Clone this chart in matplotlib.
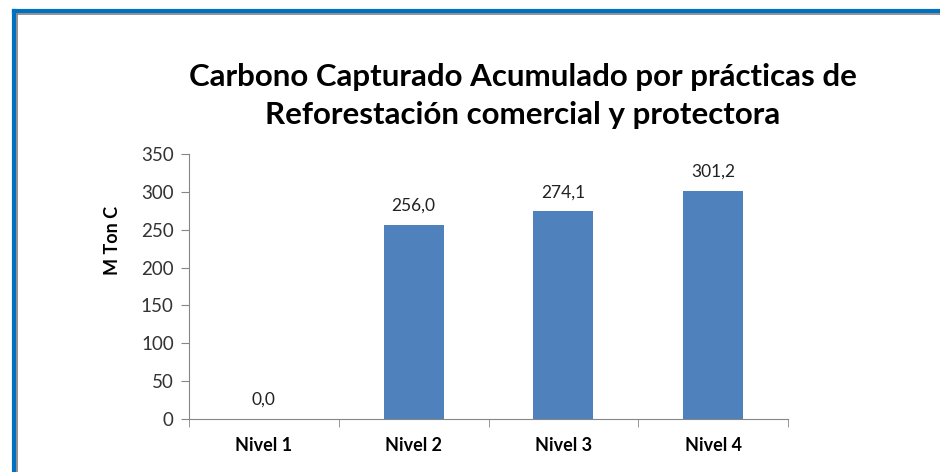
import matplotlib.pyplot as plt
from matplotlib.lines import Line2D

categories = ["Nivel 1", "Nivel 2", "Nivel 3", "Nivel 4"]
values = [0.0, 256.0, 274.1, 301.2]
labels = ["0,0", "256,0", "274,1", "301,2"]
yticks = [0, 50, 100, 150, 200, 250, 300, 350]

plt.rcParams['font.family'] = ['Lato', 'DejaVu Sans']

W, H = 940, 472
fig = plt.figure(figsize=(W / 100, H / 100), dpi=100)
ax = fig.add_axes([189 / W, 1 - 419 / H, (788 - 189) / W, (419 - 154) / H])

x = range(len(categories))
ax.bar(x, values, width=0.4, color="#4F81BD")
for i, v in enumerate(values):
    ax.annotate(labels[i], (i, v), xytext=(0, 8), textcoords="offset points",
                ha="center", va="bottom", fontsize=12.5, color="#222222")

ax.set_xlim(-0.5, len(categories) - 0.5)
ax.set_ylim(0, 350)
ax.set_yticks(yticks)
ax.tick_params(axis="y", labelsize=13.5, colors="#333333", length=6, color="#868686", pad=5)
ax.set_xticks(list(x))
ax.set_xticklabels(categories, fontsize=13, fontweight="bold")
ax.tick_params(axis="x", length=0, pad=13)
ax.set_xticks([i - 0.5 for i in range(len(categories) + 1)], minor=True)
ax.tick_params(axis="x", which="minor", length=6, color="#868686")
for s in ["top", "right"]:
    ax.spines[s].set_visible(False)
for s in ["left", "bottom"]:
    ax.spines[s].set_color("#868686")
ax.set_ylabel("M Ton C", fontsize=13, fontweight="bold")
ax.yaxis.set_label_coords(-0.113, 0.675)

fig.text(523 / W, 1 - 96 / H, "Carbono Capturado Acumulado por prácticas de\nReforestación comercial y protectora",
         ha="center", va="center", fontsize=22.5, fontweight="bold", linespacing=1.45)

# frame
fig.add_artist(Line2D([14 / W, 1], [1 - 11 / H, 1 - 11 / H], color="#0070C0", lw=3))
fig.add_artist(Line2D([17 / W, 1], [1 - 14 / H, 1 - 14 / H], color="#7F7F7F", lw=1.2))
fig.add_artist(Line2D([14 / W, 14 / W], [0, 1 - 11 / H], color="#0070C0", lw=3))
fig.add_artist(Line2D([17 / W, 17 / W], [0, 1 - 14 / H], color="#7F7F7F", lw=1.2))

fig.savefig("out.png", dpi=100)
